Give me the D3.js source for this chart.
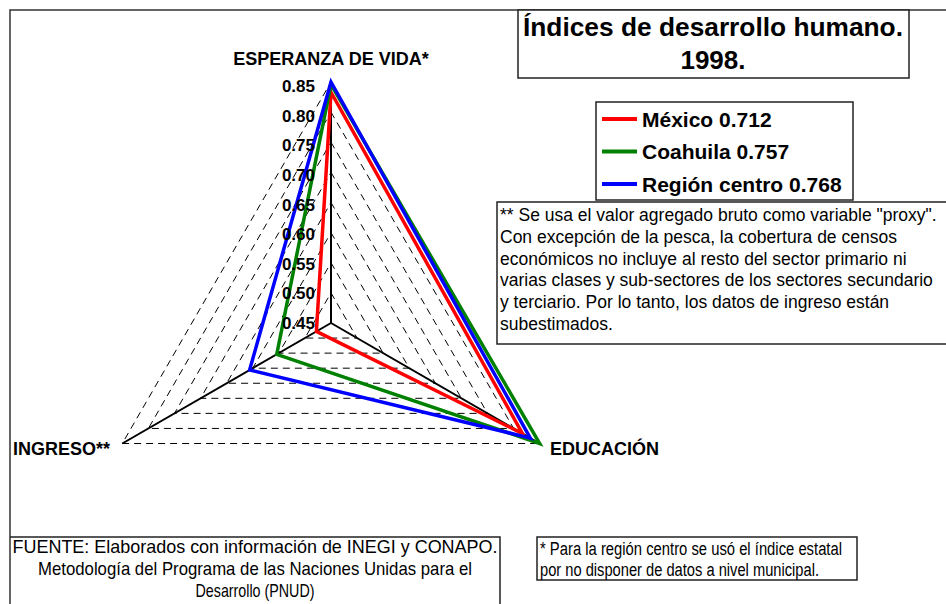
<!DOCTYPE html>
<html>
<head>
<meta charset="utf-8">
<script src="https://cdn.jsdelivr.net/npm/d3@7"></script>
<style>
  html, body { margin: 0; padding: 0; background: #fff; }
  svg { display: block; font-family: "Liberation Sans", Arial, sans-serif; }
</style>
</head>
<body>
<script>
const width = 946
const height = 604

// data
const categories = ["ESPERANZA DE VIDA*", "EDUCACIÓN", "INGRESO**"]
const mexico = [0.833, 0.817, 0.478]
const coahuila = [0.846, 0.850, 0.554]
const centro = [0.850, 0.832, 0.606]
const seriesNames = ["México 0.712", "Coahuila 0.757", "Región centro 0.768"]
const seriesColors = ["#ff0000", "#008000", "#0000ff"]
const ticks = [0.45, 0.50, 0.55, 0.60, 0.65, 0.70, 0.75, 0.80, 0.85]

const noteLines = [
  "** Se usa el valor agregado bruto como variable \"proxy\".",
  "Con excepción de la pesca, la cobertura de censos",
  "económicos no incluye al resto del sector primario ni",
  "varias clases y sub-sectores de los sectores secundario",
  "y terciario. Por lo tanto, los datos de ingreso están",
  "subestimados."
]
const sourceLines = [
  "FUENTE: Elaborados con información de INEGI y CONAPO.",
  "Metodología del Programa de las Naciones Unidas para el",
  "Desarrollo (PNUD)"
]
const starLines = [
  "* Para la región centro se usó el índice estatal",
  "por no disponer de datos a nivel municipal."
]

const series = [mexico, coahuila, centro]

const svg = d3.select("body").append("svg")
  .attr("width", width)
  .attr("height", height)

// outer frame (only top and left edges show)
svg.append("path")
  .attr("d", `M10,${height} L10,10 L${width},10`)
  .attr("fill", "none")
  .attr("stroke", "#333")
  .attr("stroke-width", 1.5)

const cx = 331, cy = 323
const r = d3.scaleLinear().domain([0.45, 0.85]).range([0, 241])
const angle = i => i * 2 * Math.PI / categories.length

const g = svg.append("g").attr("transform", `translate(${cx},${cy})`)

const radial = d3.lineRadial()
  .angle((d, i) => angle(i))
  .radius(d => r(d))
  .curve(d3.curveLinearClosed)

// dashed grid triangles
g.selectAll(".grid")
  .data(ticks.slice(1))
  .join("path")
  .attr("class", "grid")
  .attr("d", t => radial(categories.map(() => t)))
  .attr("fill", "none")
  .attr("stroke", "#000")
  .attr("stroke-width", 1)
  .attr("stroke-dasharray", "7,5")

// axis spokes
const pt = (i, v) => [r(v) * Math.sin(angle(i)), -r(v) * Math.cos(angle(i))]
g.selectAll(".spoke")
  .data(categories)
  .join("line")
  .attr("class", "spoke")
  .attr("x1", 0).attr("y1", 0)
  .attr("x2", (d, i) => pt(i, 0.85)[0])
  .attr("y2", (d, i) => pt(i, 0.85)[1])
  .attr("stroke", "#000")
  .attr("stroke-width", 2)

// series
g.selectAll(".series")
  .data(series)
  .join("path")
  .attr("class", "series")
  .attr("d", d => radial(d))
  .attr("fill", "none")
  .attr("stroke", (d, i) => seriesColors[i])
  .attr("stroke-width", 3.5)
  .attr("stroke-linejoin", "miter")

// value labels on the top axis
g.selectAll(".tick")
  .data(ticks)
  .join("text")
  .attr("class", "tick")
  .attr("x", -16)
  .attr("y", t => -r(t) + 6 + (t - 0.45) * 10)
  .attr("text-anchor", "end")
  .attr("font-size", 17)
  .attr("font-weight", "bold")
  .text(t => t.toFixed(2))

// category labels
const catPos = [
  {x: 331, y: 65, anchor: "middle"},
  {x: 550, y: 455, anchor: "start"},
  {x: 13, y: 455, anchor: "start"}
]
svg.selectAll(".cat")
  .data(categories)
  .join("text")
  .attr("class", "cat")
  .attr("x", (d, i) => catPos[i].x)
  .attr("y", (d, i) => catPos[i].y)
  .attr("text-anchor", (d, i) => catPos[i].anchor)
  .attr("font-size", 18)
  .attr("font-weight", "bold")
  .text(d => d)

// title box
svg.append("rect")
  .attr("x", 518).attr("y", 10).attr("width", 391).attr("height", 68)
  .attr("fill", "#fff").attr("stroke", "#222").attr("stroke-width", 1.5)
svg.append("text")
  .attr("x", 713).attr("y", 36)
  .attr("text-anchor", "middle")
  .attr("font-size", 25).attr("font-weight", "bold")
  .attr("textLength", 380).attr("lengthAdjust", "spacingAndGlyphs")
  .text("Índices de desarrollo humano.")
svg.append("text")
  .attr("x", 713).attr("y", 69)
  .attr("text-anchor", "middle")
  .attr("font-size", 26).attr("font-weight", "bold")
  .text("1998.")

// legend
svg.append("rect")
  .attr("x", 596).attr("y", 102).attr("width", 257).attr("height", 98)
  .attr("fill", "#fff").attr("stroke", "#222").attr("stroke-width", 1.5)
const leg = svg.selectAll(".leg")
  .data(seriesNames)
  .join("g")
  .attr("class", "leg")
  .attr("transform", (d, i) => `translate(602,${119 + i * 32.5})`)
leg.append("line")
  .attr("x1", 0).attr("x2", 35)
  .attr("stroke", (d, i) => seriesColors[i])
  .attr("stroke-width", 4)
leg.append("text")
  .attr("x", 40).attr("y", 7.5)
  .attr("font-size", 21).attr("font-weight", "bold")
  .text(d => d)

// note box
svg.append("rect")
  .attr("x", 497).attr("y", 202).attr("width", 460).attr("height", 142)
  .attr("fill", "#fff").attr("stroke", "#222").attr("stroke-width", 1.5)
svg.selectAll(".note")
  .data(noteLines)
  .join("text")
  .attr("class", "note")
  .attr("x", 500)
  .attr("y", (d, i) => 221 + i * 21.8)
  .attr("font-size", 17.5)
  .text(d => d)

// source box
svg.append("path")
  .attr("d", "M10,537 L500,537 L500,604")
  .attr("fill", "none").attr("stroke", "#222").attr("stroke-width", 1.5)
const srcLen = [485, 434, 119]
svg.selectAll(".src")
  .data(sourceLines)
  .join("text")
  .attr("class", "src")
  .attr("x", 255)
  .attr("y", (d, i) => 553 + i * 22)
  .attr("text-anchor", "middle")
  .attr("font-size", 18.5)
  .attr("textLength", (d, i) => srcLen[i])
  .attr("lengthAdjust", "spacingAndGlyphs")
  .text(d => d)

// footnote box for the asterisk
svg.append("rect")
  .attr("x", 537).attr("y", 537).attr("width", 320).attr("height", 43)
  .attr("fill", "#fff").attr("stroke", "#222").attr("stroke-width", 1.5)
const starLen = [302, 279]
svg.selectAll(".star")
  .data(starLines)
  .join("text")
  .attr("class", "star")
  .attr("x", 540)
  .attr("y", (d, i) => 555 + i * 21)
  .attr("font-size", 18)
  .attr("textLength", (d, i) => starLen[i])
  .attr("lengthAdjust", "spacingAndGlyphs")
  .text(d => d)
</script>
</body>
</html>
